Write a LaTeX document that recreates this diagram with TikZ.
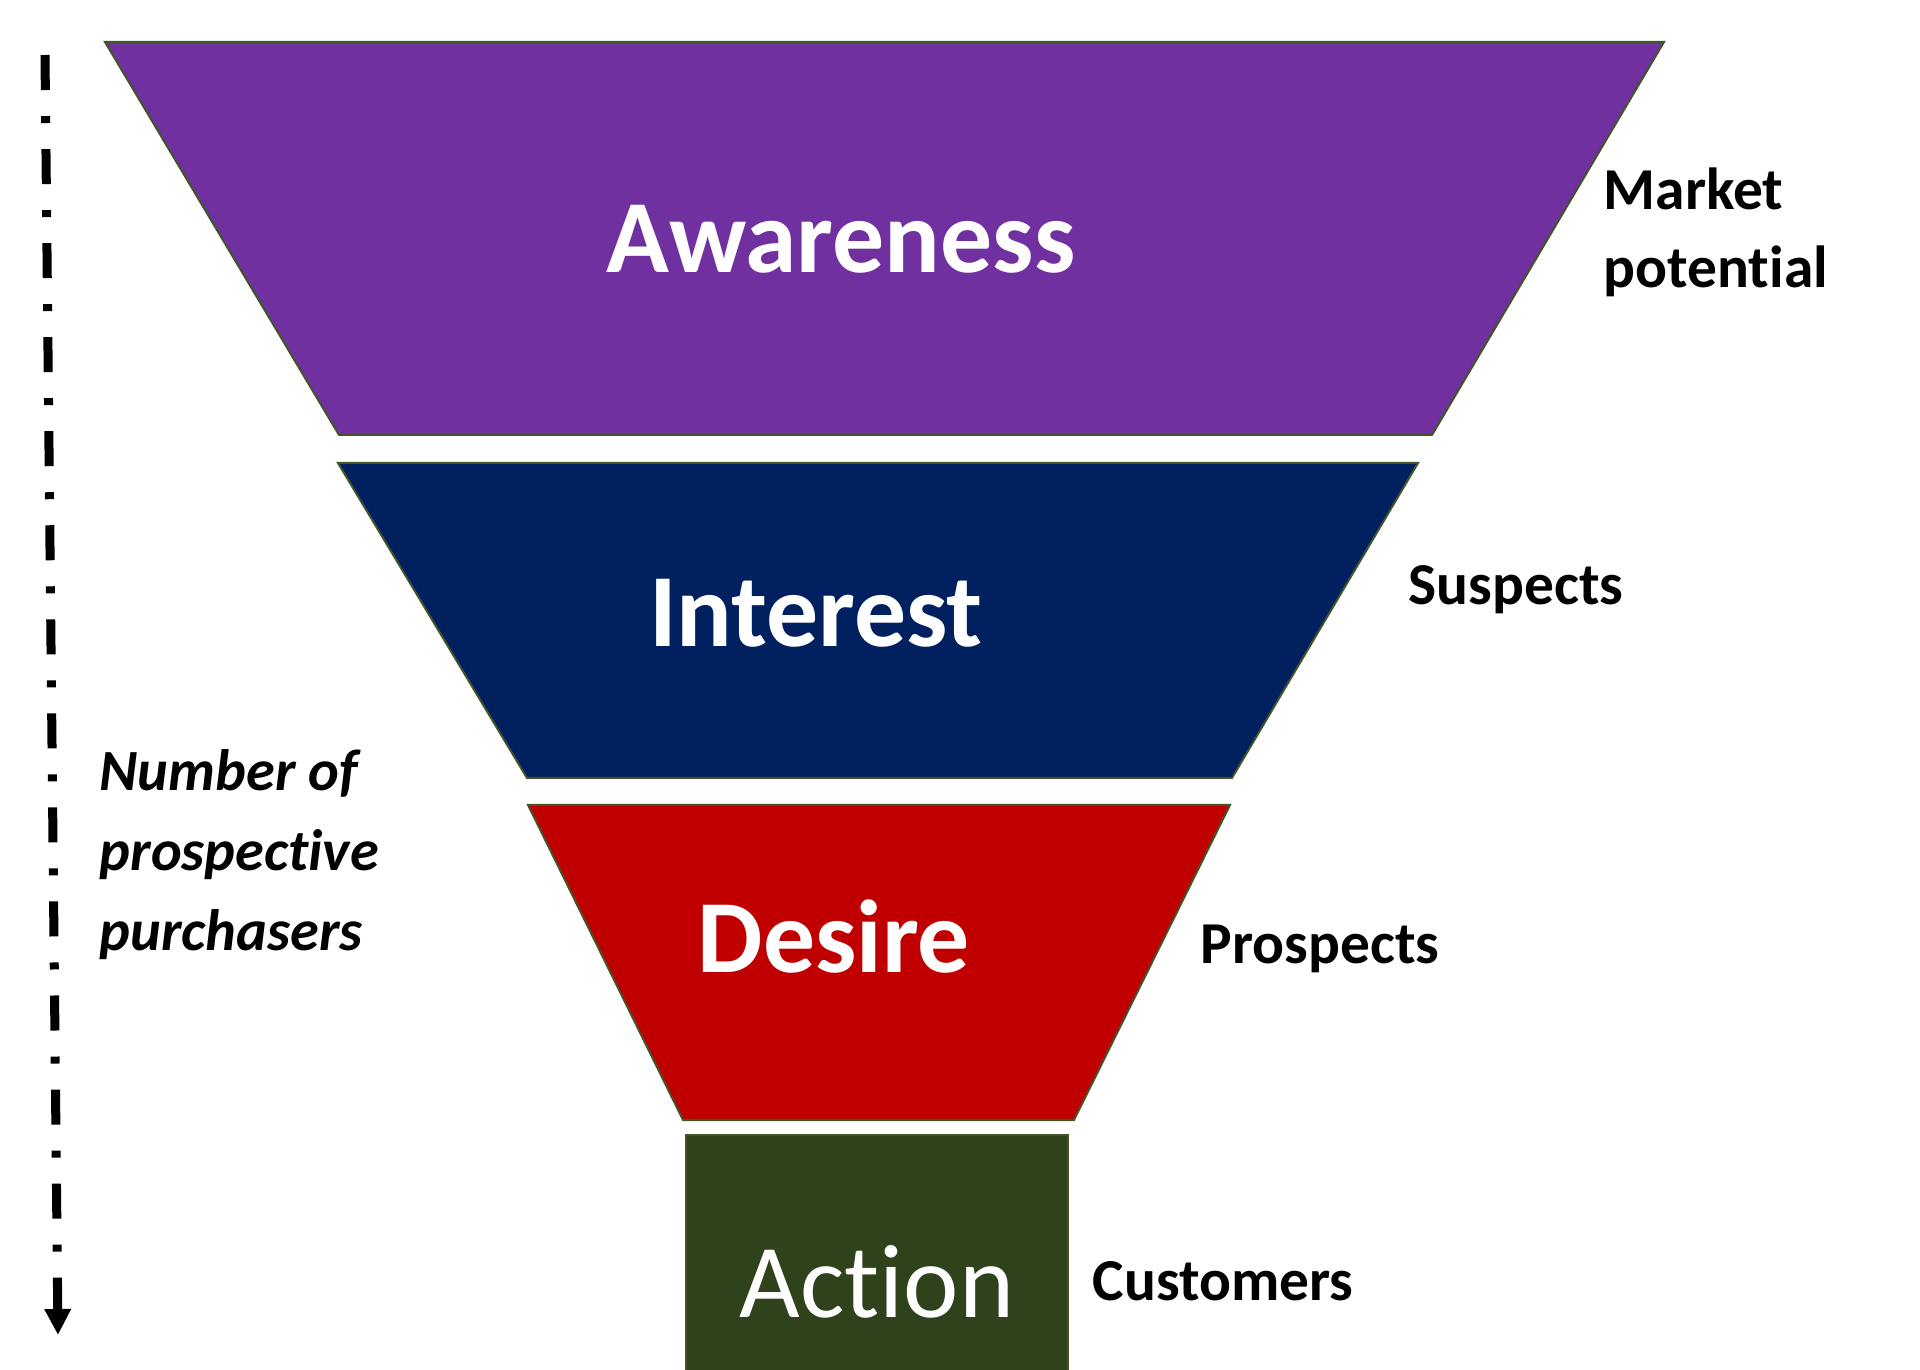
\documentclass[tikz,border=0pt]{standalone}
\usepackage{fontspec}
\setmainfont{Carlito}[Ligatures=NoCommon]
\usetikzlibrary{arrows.meta}
\definecolor{awpurple}{RGB}{112,48,160}
\definecolor{inblue}{RGB}{0,32,96}
\definecolor{dered}{RGB}{192,0,0}
\definecolor{acgreen}{RGB}{48,66,28}
\definecolor{edgegreen}{RGB}{66,84,40}
\tikzset{
  seg/.style={draw=edgegreen, line width=0.02cm, line join=miter},
  stagelabel/.style={text=white, font=\bfseries\fontsize{29.5}{35}\selectfont, inner sep=0pt, anchor=base},
  actionlabel/.style={text=white, font=\fontsize{29.8}{35}\selectfont, inner sep=0pt, anchor=base},
  sidelabel/.style={font=\bfseries\fontsize{16.9}{22.4}\selectfont, inner sep=0pt, anchor=base west, align=left},
  axislabel/.style={font=\bfseries\itshape\fontsize{16.6}{22.7}\selectfont, inner sep=0pt, anchor=base west, align=left},
  axisline/.style={line width=0.09cm, dash pattern=on 0.35cm off 0.26cm on 0.07cm off 0.26cm,
    -{Triangle[width=0.25cm,length=0.26cm]}}
}
\begin{document}
\begin{tikzpicture}[x=0.01cm,y=-0.01cm]
\useasboundingbox (0,0) rectangle (1920,1370);
\fill[white] (0,0) rectangle (1920,1370);
\begin{scope}
  \clip (0,0) rectangle (1920,1370);
  \path[seg, fill=awpurple] (105,42) -- (1664,42) -- (1432,435) -- (339,435) -- cycle;
  \path[seg, fill=inblue] (338,463) -- (1418,463) -- (1232,778) -- (527,778) -- cycle;
  \path[seg, fill=dered] (528,805) -- (1230,805) -- (1074,1120) -- (683,1120) -- cycle;
  \path[seg, fill=acgreen] (686,1135) rectangle (1068,1390);
\end{scope}
\node[stagelabel] (aw) at (841,273) {Awareness};
\node[stagelabel] (in) at (816,647) {Interest};
\node[stagelabel] (de) at (834,972) {Desire};
\node[actionlabel] (ac) at (877,1317) {Action};
% multi-line nodes: base anchor sits on the last line
\node[sidelabel] (mk) at (1603,288) {Market\\potential};
\node[sidelabel] (su) at (1408,605) {Suspects};
\node[sidelabel] (pr) at (1200,964) {Prospects};
\node[sidelabel] (cu) at (1092,1300) {Customers};
\node[axislabel] (np) at (99,950) {Number of\\prospective\\purchasers};
\coordinate (axtop) at (45,55);
\coordinate (axbot) at (58,1335);
\draw[axisline] (axtop) -- (axbot);
\end{tikzpicture}
\end{document}
